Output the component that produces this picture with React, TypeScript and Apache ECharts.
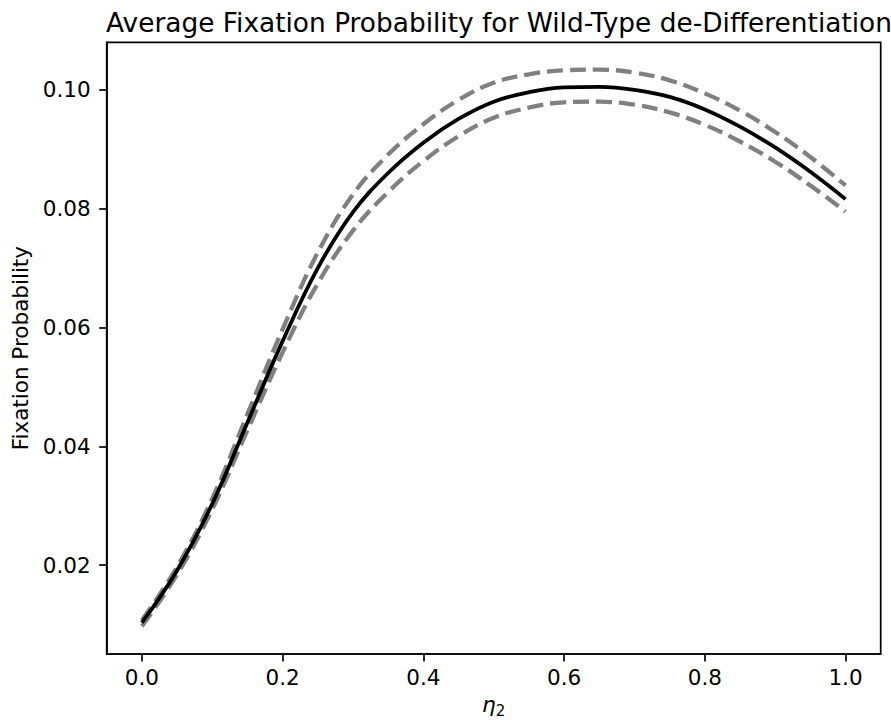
import React, { useEffect, useRef } from "react";
import * as echarts from "echarts";

const eta = [0, 0.05, 0.1, 0.15, 0.2, 0.25, 0.3, 0.35, 0.4, 0.45, 0.5, 0.55, 0.6, 0.65, 0.7, 0.75, 0.8, 0.85, 0.9, 0.95, 1.0];
const meanFix = [0.0103, 0.0191, 0.0303, 0.044, 0.0577, 0.07, 0.0794, 0.086, 0.0911, 0.0951, 0.098, 0.0996, 0.1004, 0.1005, 0.1, 0.0988, 0.0967, 0.0938, 0.0903, 0.0862, 0.0816];
const upperFix = [0.0107, 0.0197, 0.0312, 0.0454, 0.0597, 0.0726, 0.0824, 0.0891, 0.0942, 0.0983, 0.1012, 0.1026, 0.1033, 0.1034, 0.1029, 0.1016, 0.0994, 0.0965, 0.0929, 0.0887, 0.0839];
const lowerFix = [0.0097, 0.0184, 0.0294, 0.0427, 0.0558, 0.0674, 0.0763, 0.0828, 0.088, 0.0922, 0.0953, 0.097, 0.0979, 0.098, 0.0975, 0.0962, 0.0941, 0.0913, 0.0879, 0.0839, 0.0795];
const xTicks = [0, 0.2, 0.4, 0.6, 0.8, 1.0];
const yTicks = [0.02, 0.04, 0.06, 0.08, 0.1];

const FONT = "DejaVu Sans";

export default function App() {
  const ref = useRef<HTMLDivElement>(null);
  useEffect(() => {
    const chart = echarts.init(ref.current as HTMLDivElement, null, { renderer: "svg" });
    const pair = (ys: number[]) => eta.map((x, i) => [x, ys[i]]);
    chart.setOption({
      animation: false,
      backgroundColor: "#ffffff",
      title: {
        text: "Average Fixation Probability for Wild-Type de-Differentiation",
        left: 494,
        textAlign: "center",
        top: 4,
        textStyle: { fontSize: 26.4, fontWeight: "normal", color: "#000", fontFamily: FONT },
      },
      grid: {
        left: 106.7,
        right: 10.3,
        top: 42.3,
        bottom: 66.3,
        show: true,
        borderColor: "#000",
        borderWidth: 1.7,
        backgroundColor: "transparent",
      },
      xAxis: {
        type: "value",
        min: -0.05,
        max: 1.05,
        splitLine: { show: false },
        axisLine: { show: true, onZero: false, lineStyle: { color: "#000", width: 1.7 } },
        axisTick: { show: true, length: 7.5, lineStyle: { color: "#000", width: 1.7 }, customValues: xTicks },
        axisLabel: {
          customValues: xTicks,
          formatter: (v: number) => v.toFixed(1),
          fontSize: 21.5,
          color: "#000",
          fontFamily: FONT,
          margin: 12,
        },
        name: "{i|η}{s|2}",
        nameLocation: "middle",
        nameGap: 37,
        nameTextStyle: {
          rich: {
            i: { fontFamily: FONT, fontStyle: "italic", fontSize: 21.5, color: "#000" },
            s: { fontFamily: FONT, fontSize: 15, color: "#000", padding: [12, 0, 0, 0] },
          },
        },
      },
      yAxis: {
        type: "value",
        min: 0.00503,
        max: 0.108,
        splitLine: { show: false },
        axisLine: { show: true, onZero: false, lineStyle: { color: "#000", width: 1.7 } },
        axisTick: { show: true, length: 7.5, lineStyle: { color: "#000", width: 1.7 }, customValues: yTicks },
        axisLabel: {
          customValues: yTicks,
          formatter: (v: number) => v.toFixed(2),
          fontSize: 21.5,
          color: "#000",
          fontFamily: FONT,
          margin: 16,
        },
        name: "Fixation Probability",
        nameLocation: "middle",
        nameRotate: 90,
        nameGap: 69,
        nameTextStyle: { fontSize: 21.5, color: "#000", fontFamily: FONT },
      },
      series: [
        {
          name: "Upper",
          type: "line",
          data: pair(upperFix),
          symbol: "none",
          smooth: 0.4,
          lineStyle: { color: "#808080", width: 4.3, type: [16, 7] },
          z: 2,
        },
        {
          name: "Lower",
          type: "line",
          data: pair(lowerFix),
          symbol: "none",
          smooth: 0.4,
          lineStyle: { color: "#808080", width: 4.3, type: [16, 7] },
          z: 2,
        },
        {
          name: "Mean",
          type: "line",
          data: pair(meanFix),
          symbol: "none",
          smooth: 0.4,
          lineStyle: { color: "#000000", width: 3.8, type: "solid" },
          z: 3,
        },
      ],
    });
    return () => chart.dispose();
  }, []);
  return (
    <div
      ref={ref}
      style={{ position: "fixed", left: 0, top: 0, width: 891, height: 723, background: "#fff" }}
    />
  );
}
